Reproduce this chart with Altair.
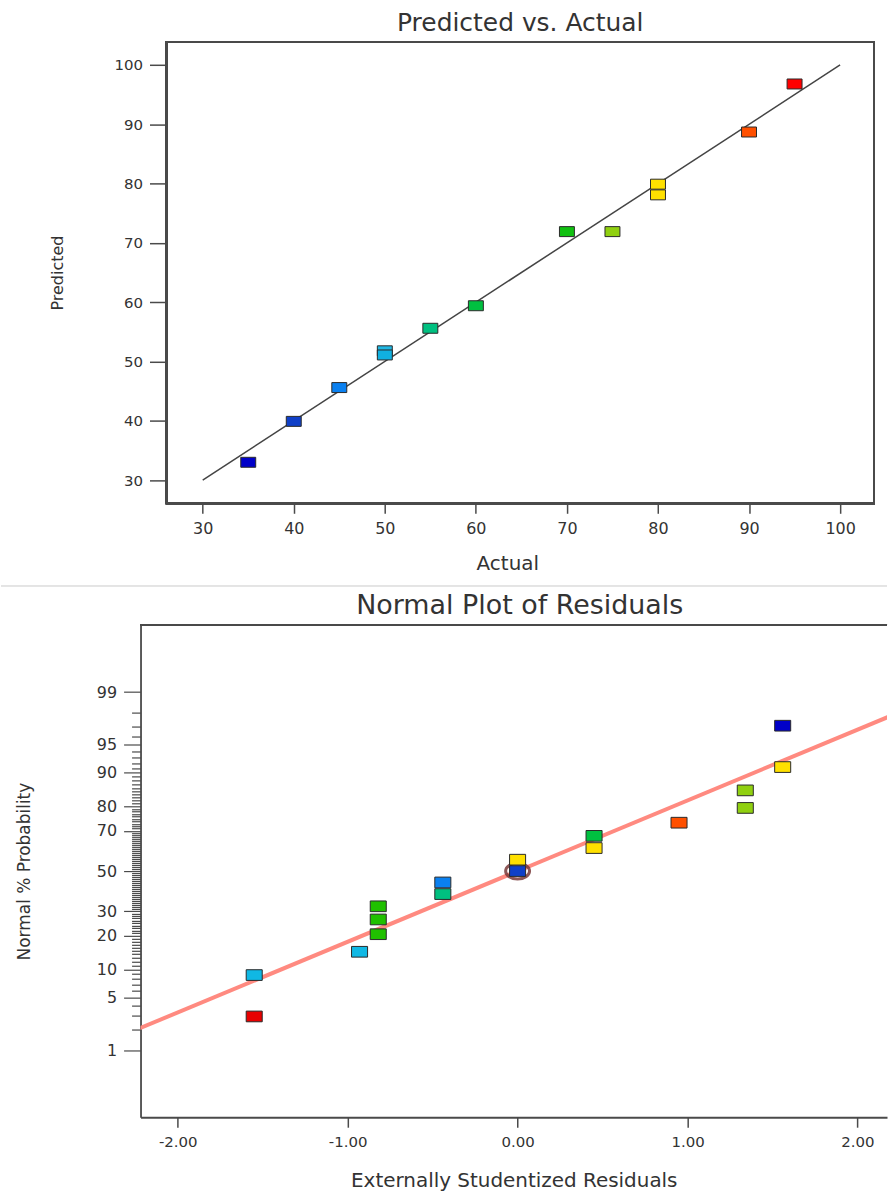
import altair as alt
import pandas as pd
from statistics import NormalDist

# ---------------- Predicted vs. Actual ----------------
actual = [35, 40, 45, 50, 50, 55, 60, 70, 75, 80, 80, 90, 95]
predicted = [33.0, 39.9, 45.6, 51.8, 51.1, 55.6, 59.4, 71.9, 71.9, 79.9, 78.1, 88.7, 96.8]
top_colors = ["#0000c8", "#1040c8", "#0a80f0", "#20b8e4", "#10b0e0", "#00c080",
              "#00c040", "#10c010", "#90d010", "#ffe000", "#ffe000", "#ff5000", "#ff0000"]
diag_actual = [30, 100]
diag_predicted = [30, 100]
top_x_ticks = [30, 40, 50, 60, 70, 80, 90, 100]
top_y_ticks = [30, 40, 50, 60, 70, 80, 90, 100]
top_x_domain = [23.17, 103.73]
top_y_domain = [26.08, 103.9]
top_frame_x = [26.03, 103.73]

# ---------------- Normal Plot of Residuals ----------------
residuals = [-1.55, -1.55, -0.93, -0.82, -0.82, -0.82, -0.44, -0.44, 0.00,
             0.00, 0.45, 0.45, 0.95, 1.34, 1.34, 1.56, 1.56]
probability = [2.94, 8.82, 14.71, 20.59, 26.47, 32.35, 38.24, 44.12, 50.0,
               55.88, 61.76, 67.65, 73.53, 79.41, 85.29, 91.18, 97.06]
bottom_colors = ["#e80000", "#10b8e4", "#10b8e4", "#20c000", "#20c000", "#20c000",
                 "#00c080", "#0a80f0", "#1040c8", "#ffe000", "#ffe000", "#00c040",
                 "#ff5000", "#90d010", "#90d010", "#ffe000", "#0000c8"]
fit_residuals = [-2.5, 2.5]
fit_probability = [1.08, 98.92]
circled_residual = [0.0]
circled_probability = [50.0]
res_ticks = [-2, -1, 0, 1, 2]
res_domain = [-2.219, 2.174]
z_domain = [-3.2, 3.2]
prob_labels = [1, 5, 10, 20, 30, 50, 70, 80, 90, 95, 99]
prob_minor = list(range(1, 100))

FONT = "DejaVu Sans"
TXT = "#333333"
FRAME = "#4a4a4a"
RECT_PATH = "M-1.5,-1H1.5V1H-1.5Z"
ELLIPSE_PATH = "M-1.5,0A1.5,1,0,1,0,1.5,0A1.5,1,0,1,0,-1.5,0Z"

# ---------- top chart ----------
top_df = pd.DataFrame({"Actual": actual, "Predicted": predicted, "color": top_colors})
diag_df = pd.DataFrame({"Actual": diag_actual, "Predicted": diag_predicted})

xs_top = alt.Scale(domain=top_x_domain, nice=False, zero=False)
ys_top = alt.Scale(domain=top_y_domain, nice=False, zero=False)

x_top_axis = alt.Axis(values=top_x_ticks, title="Actual", grid=False, domain=False,
                      tickSize=10, tickWidth=1.5, tickColor=FRAME,
                      labelFont=FONT, labelFontSize=16, labelColor=TXT, labelPadding=7,
                      titleFont=FONT, titleFontSize=20, titleFontWeight="normal",
                      titleColor=TXT, titlePadding=17)
y_top_axis = alt.Axis(values=top_y_ticks, title="Predicted", grid=False, domain=False,
                      offset=-26, tickSize=17, tickWidth=1.5, tickColor=FRAME,
                      labelFont=FONT, labelFontSize=15, labelColor=TXT, labelPadding=7,
                      titleFont=FONT, titleFontSize=16, titleFontWeight="normal",
                      titleColor=TXT, titlePadding=49)

frame_top = alt.Chart(top_df).mark_rect(fillOpacity=0, stroke=FRAME, strokeWidth=1.8).encode(
    x=alt.XDatum(top_frame_x[0], scale=xs_top, axis=x_top_axis),
    x2=alt.X2Datum(top_frame_x[1]),
    y=alt.YDatum(top_y_domain[0], scale=ys_top, axis=y_top_axis),
    y2=alt.Y2Datum(top_y_domain[1]),
)
separator = alt.Chart(top_df).mark_rule(color="#e4e4e4", strokeWidth=1).encode(
    x=alt.value(-140), x2=alt.value(749), y=alt.value(546))
diag = alt.Chart(diag_df).mark_line(color="#444444", strokeWidth=1.5).encode(
    x=alt.X("Actual:Q", scale=xs_top, axis=x_top_axis),
    y=alt.Y("Predicted:Q", scale=ys_top, axis=y_top_axis),
)
pts_top = alt.Chart(top_df).mark_point(shape=RECT_PATH, size=100, filled=True, opacity=1,
                                       stroke="#2a2a2a", strokeWidth=1).encode(
    x=alt.X("Actual:Q", scale=xs_top, axis=x_top_axis),
    y=alt.Y("Predicted:Q", scale=ys_top, axis=y_top_axis),
    fill=alt.Fill("color:N", scale=None),
)
top = alt.layer(frame_top, separator, diag, pts_top).properties(
    width=736, height=463,
    title=alt.TitleParams("Predicted vs. Actual", font=FONT, fontSize=25, fontWeight="normal",
                          color=TXT, anchor="middle", frame="group", offset=5, dx=13),
)

# ---------- bottom chart ----------
bot_df = pd.DataFrame({"res": residuals, "pct": probability, "color": bottom_colors})
fit_df = pd.DataFrame({"res": fit_residuals, "pct": fit_probability})
circ_df = pd.DataFrame({"res": circled_residual, "pct": circled_probability})

nd = NormalDist()
z_ticks = [nd.inv_cdf(p / 100) for p in prob_minor]
major_list = "[" + ",".join(str(p) for p in prob_labels) + "]"
pct_expr = "round(cumulativeNormal(datum.value) * 100)"
is_major = f"indexof({major_list}, {pct_expr}) >= 0"

xs_bot = alt.Scale(domain=res_domain, nice=False, zero=False)
ys_bot = alt.Scale(domain=z_domain, nice=False, zero=False)

x_bot_axis = alt.Axis(values=res_ticks, title="Externally Studentized Residuals", grid=False,
                      domain=True, domainColor=FRAME, domainWidth=1.8,
                      tickSize=10, tickWidth=1.5, tickColor=FRAME,
                      labelExpr="replace(format(datum.value, '.2f'), '\u2212', '-')",
                      labelFont=FONT, labelFontSize=15, labelColor=TXT, labelPadding=7,
                      titleFont=FONT, titleFontSize=20, titleFontWeight="normal",
                      titleColor=TXT, titlePadding=21)
y_bot_axis = alt.Axis(values=z_ticks, title="Normal % Probability", grid=False,
                      domain=True, domainColor=FRAME, domainWidth=1.8,
                      tickSize={"condition": {"test": is_major, "value": 17}, "value": 9},
                      tickWidth=1.2, tickColor=FRAME, labelOverlap=False,
                      labelExpr=f"{is_major} ? format({pct_expr}, 'd') : ''",
                      labelFont=FONT, labelFontSize=16, labelColor=TXT, labelPadding=7,
                      titleFont=FONT, titleFontSize=17, titleFontWeight="normal",
                      titleColor=TXT, titlePadding=63)

z_calc = "quantileNormal(datum.pct / 100)"

top_rule = alt.Chart(bot_df).mark_rule(color=FRAME, strokeWidth=1.8).encode(
    y=alt.YDatum(z_domain[1], scale=ys_bot, axis=y_bot_axis))
fit_line = alt.Chart(fit_df).transform_calculate(z=z_calc).mark_line(
    color="#ff8a80", strokeWidth=4, clip=True).encode(
    x=alt.X("res:Q", scale=xs_bot, axis=x_bot_axis),
    y=alt.Y("z:Q", scale=ys_bot, axis=y_bot_axis),
)
circle = alt.Chart(circ_df).transform_calculate(z=z_calc).mark_point(
    shape=ELLIPSE_PATH, size=256, filled=False, color="#7a3a3a", strokeWidth=3,
    opacity=0.85).encode(
    x=alt.X("res:Q", scale=xs_bot, axis=x_bot_axis),
    y=alt.Y("z:Q", scale=ys_bot, axis=y_bot_axis),
)
pts_bot = alt.Chart(bot_df).transform_calculate(z=z_calc).mark_point(
    shape=RECT_PATH, size=115, filled=True, opacity=1, stroke="#2a2a2a", strokeWidth=1).encode(
    x=alt.X("res:Q", scale=xs_bot, axis=x_bot_axis),
    y=alt.Y("z:Q", scale=ys_bot, axis=y_bot_axis),
    fill=alt.Fill("color:N", scale=None),
)
bottom = alt.layer(top_rule, fit_line, circle, pts_bot).properties(
    width=749, height=494,
    title=alt.TitleParams("Normal Plot of Residuals", font=FONT, fontSize=27, fontWeight="normal",
                          color=TXT, anchor="middle", frame="group", offset=4, dx=6),
)

chart = alt.vconcat(top, bottom, spacing=4).properties(
    padding={"left": 0, "top": 8, "right": 0, "bottom": 0},
    background="white",
).configure_view(stroke="transparent")

chart.save("out.html", embed_options={"renderer": "svg", "actions": False})
